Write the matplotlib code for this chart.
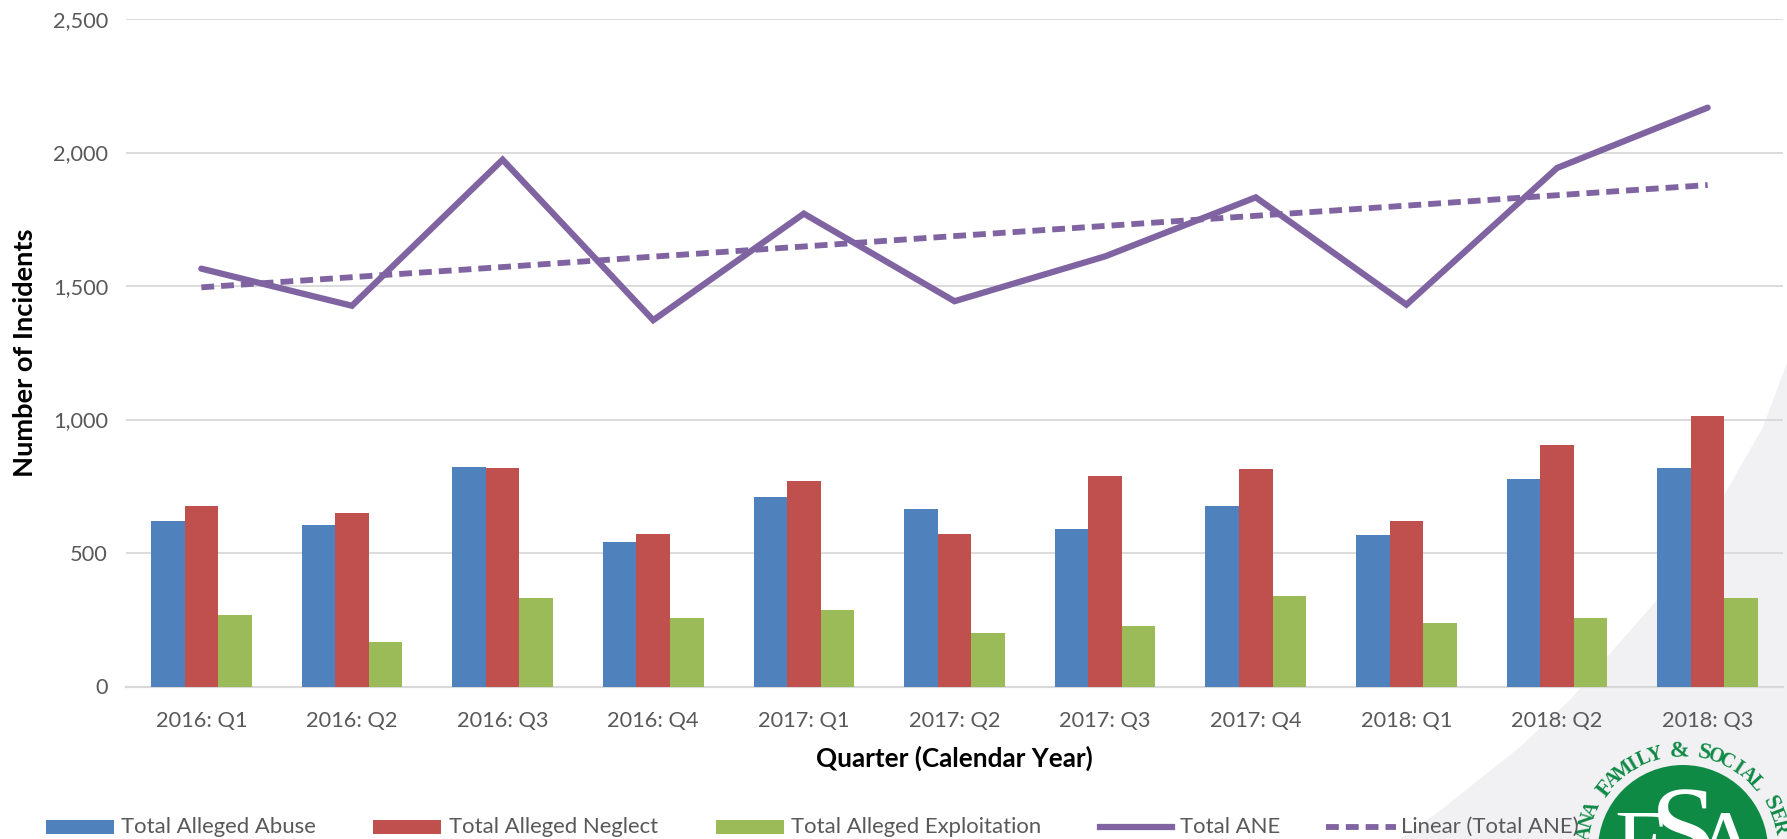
import numpy as np
import matplotlib
matplotlib.use("Agg")
import matplotlib.pyplot as plt
from matplotlib.patches import Polygon, Circle

quarters = ["2016: Q1","2016: Q2","2016: Q3","2016: Q4","2017: Q1","2017: Q2","2017: Q3","2017: Q4","2018: Q1","2018: Q2","2018: Q3"]
abuse = [618,606,823,540,711,665,591,676,568,778,820]
neglect = [676,648,818,573,770,573,788,813,620,905,1012]
exploitation = [268,168,331,255,286,201,228,338,238,256,331]
total = [1565,1426,1973,1372,1771,1443,1611,1832,1430,1942,2168]
trend = [1495,1533,1571,1610,1648,1687,1725,1763,1801,1840,1878]

W, H = 1787, 839
plt.rcParams['font.family'] = ['Lato', 'DejaVu Sans']
fig = plt.figure(figsize=(W/100, H/100), dpi=100)
GREY = '#f1f1f4'
TXT = '#595959'

bg = fig.add_axes([0,0,1,1], zorder=0)
bg.set_xlim(0,W); bg.set_ylim(H,0); bg.axis('off')
swoosh = [(1787,363),(1763,427),(1723,497),(1657,600),(1607,657),(1570,700),(1520,747),(1437,813),(1400,839),(1787,839)]
bg.add_patch(Polygon(swoosh, closed=True, fc=GREY, ec='none'))

cx, cy, r = 1683, 850, 85
GREEN = '#0f8a45'
bg.add_patch(Circle((cx,cy), r, fc=GREEN, ec='none'))
R = 99
ring = "ANA FAMILY & SOCIAL SER"
big = {4, 11, 13, 20}
for i, ch in enumerate(ring):
    a = -80 + 7.1*i
    t = np.deg2rad(a)
    bg.text(cx+R*np.sin(t), cy-R*np.cos(t), ch, rotation=-a, ha='center', va='center',
            fontsize=17 if i in big else 14.5, family='Liberation Serif', weight='bold', color=GREEN)
bg.text(1640, 873, "F", color='white', fontsize=66, family='Liberation Serif', ha='center', va='baseline')
bg.text(1684, 871, "S", color='white', fontsize=88, family='Liberation Serif', ha='center', va='baseline')
bg.text(1725, 873, "A", color='white', fontsize=66, family='Liberation Serif', ha='center', va='baseline')

ax = fig.add_axes([126/W, 1-686.5/H, (1783-126)/W, (686.5-19)/H], zorder=1)
ax.patch.set_alpha(0)
x = np.arange(len(quarters))
w = 0.2225
ax.bar(x-w, abuse, w, color='#4f81bd', zorder=3)
ax.bar(x, neglect, w, color='#c0504d', zorder=3)
ax.bar(x+w, exploitation, w, color='#9bbb59', zorder=3)
ax.plot(x, total, color='#8064a2', lw=4.5, solid_capstyle='round', solid_joinstyle='miter', zorder=4)
ax.plot(x, trend, color='#8064a2', lw=4.2, ls=(0,(2.2,1.2)), zorder=4)
ax.set_xlim(-0.5, 10.5); ax.set_ylim(0,2500)
ax.set_yticks([0,500,1000,1500,2000,2500])
ax.set_yticklabels(["0","500","1,000","1,500","2,000","2,500"])
ax.set_xticks(x); ax.set_xticklabels(quarters)
ax.tick_params(length=0, labelsize=15.7, labelcolor=TXT)
ax.tick_params(axis='x', pad=18)
ax.tick_params(axis='y', pad=13)
ax.grid(axis='y', color='#d9d9d9', lw=1.3, zorder=0)
ax.set_axisbelow(True)
for s in ['top','right','left']:
    ax.spines[s].set_visible(False)
ax.spines['bottom'].set_color('#d9d9d9'); ax.spines['bottom'].set_linewidth(1.6)

fig.text(954/W, 1-758/H, "Quarter (Calendar Year)", ha='center', va='center', fontsize=18.8, weight='bold', color='black')
fig.text(25/W, 1-353/H, "Number of Incidents", ha='center', va='center', rotation=90, fontsize=19.6, weight='bold', color='black')

def leg(x0, x1, label, tx, kind, col):
    yy = 827
    if kind == 'bar':
        bg.add_patch(Polygon([(x0,yy-7),(x1,yy-7),(x1,yy+7),(x0,yy+7)], closed=True, fc=col, ec='none'))
    elif kind == 'line':
        bg.plot([x0,x1],[yy,yy], color=col, lw=4.5)
    else:
        bg.plot([x0,x1],[yy,yy], color=col, lw=4.2, ls=(0,(2.2,1.2)))
    bg.text(tx, yy, label, color=TXT, fontsize=15.9, va='center', ha='left')
leg(46,114,'Total Alleged Abuse',121,'bar','#4f81bd')
leg(373,441,'Total Alleged Neglect',449,'bar','#c0504d')
leg(716,784,'Total Alleged Exploitation',791,'bar','#9bbb59')
leg(1100,1172,'Total ANE',1180,'line','#8064a2')
leg(1326,1396,'Linear (Total ANE)',1401,'dash','#8064a2')

fig.savefig('out.png', dpi=100)
